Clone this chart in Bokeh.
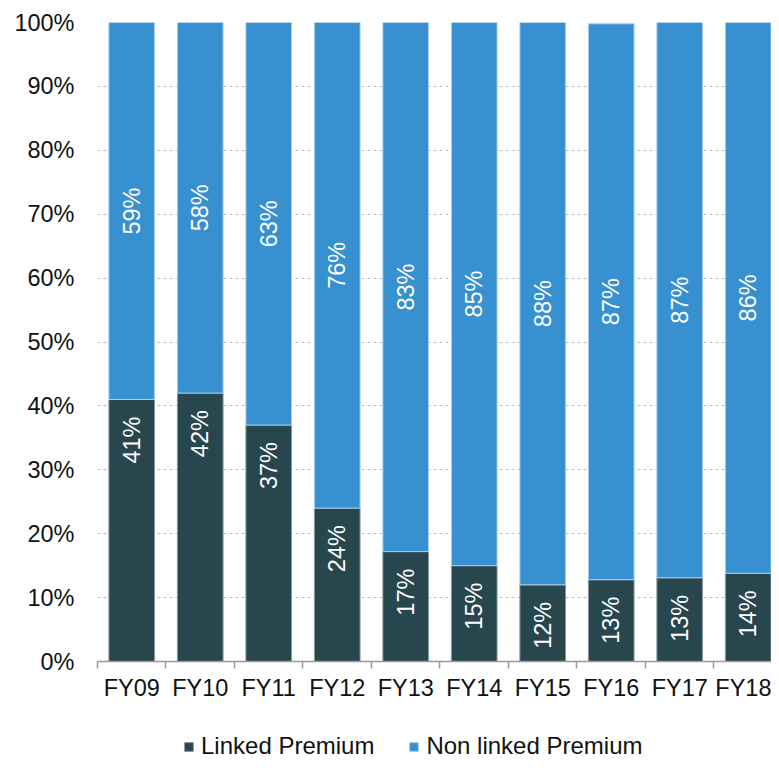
import math
from bokeh.plotting import figure
from bokeh.layouts import column
from bokeh.models import ColumnDataSource, Range1d, FixedTicker, Legend, LegendItem
from bokeh.core.properties import value
from bokeh.embed import file_html
from bokeh.resources import INLINE

categories = ["FY09", "FY10", "FY11", "FY12", "FY13", "FY14", "FY15", "FY16", "FY17", "FY18"]
linked = [41.0, 42.0, 37.0, 24.0, 17.2, 15.0, 12.0, 12.8, 13.1, 13.8]
non_linked = [59.0, 58.0, 63.0, 76.0, 82.8, 85.0, 88.0, 87.0, 86.9, 86.2]
y_ticks = [0, 10, 20, 30, 40, 50, 60, 70, 80, 90, 100]
y_tick_labels = ["0%", "10%", "20%", "30%", "40%", "50%", "60%", "70%", "80%", "90%", "100%"]
series_names = ["Linked Premium", "Non linked Premium"]

FONT = "Liberation Sans"
FS = "23.5px"
DARK = "#28464E"
BLUE = "#3790D0"
DARK_EDGE = "#8A9A9E"
BLUE_EDGE = "#A9D0EE"

x = [i + 0.5 for i in range(len(categories))]
src = ColumnDataSource(dict(
    x=x,
    linked=linked,
    non_linked=non_linked,
    top=[a + b for a, b in zip(linked, non_linked)],
    mid=[a + b / 2 for a, b in zip(linked, non_linked)],
    llab=[f"{round(v)}%" for v in linked],
    nlab=[f"{round(v)}%" for v in non_linked],
))

p = figure(width=771, height=703, x_range=Range1d(0, 9.84), y_range=Range1d(0, 100),
           output_backend="svg", toolbar_location=None,
           min_border_left=97, min_border_right=0, min_border_top=22, min_border_bottom=40)
p.outline_line_color = None
p.background_fill_color = "white"

p.xgrid.grid_line_color = None
p.ygrid.grid_line_color = "#BFBFBF"
p.ygrid.grid_line_dash = "3 3"
p.ygrid.grid_line_width = 1
p.ygrid.ticker = FixedTicker(ticks=y_ticks)

yax = p.yaxis[0]
yax.ticker = FixedTicker(ticks=y_ticks)
yax.major_label_overrides = {t: l for t, l in zip(y_ticks, y_tick_labels)}
yax.axis_line_color = None
yax.major_tick_line_color = None
yax.minor_tick_line_color = None
yax.major_tick_out = 0
yax.major_label_standoff = 23
yax.major_label_text_font = FONT
yax.major_label_text_font_size = FS
yax.major_label_text_color = "#111111"

xax = p.xaxis[0]
xax.ticker = FixedTicker(ticks=x, minor_ticks=list(range(len(categories) + 1)))
xax.major_label_overrides = {t: c for t, c in zip(x, categories)}
xax.axis_line_color = "#999999"
xax.axis_line_width = 1.5
xax.major_tick_line_color = None
xax.major_tick_out = 0
xax.minor_tick_line_color = "#999999"
xax.minor_tick_line_width = 1.5
xax.minor_tick_in = 0
xax.minor_tick_out = 7
xax.major_label_standoff = 6
xax.major_label_text_font = FONT
xax.major_label_text_font_size = FS
xax.major_label_text_color = "#111111"

p.vbar(x="x", bottom=0, top="linked", width=0.667, source=src,
       fill_color=DARK, line_color=DARK_EDGE, line_width=1)
p.vbar(x="x", bottom="linked", top="top", width=0.667, source=src,
       fill_color=BLUE, line_color=BLUE_EDGE, line_width=1)

p.text(x="x", y="mid", text="nlab", angle=math.pi / 2, text_align="center",
       text_baseline="middle", text_color="white", text_font=value(FONT),
       text_font_size=FS, source=src)
p.text(x="x", y="linked", text="llab", angle=math.pi / 2, text_align="right",
       text_baseline="middle", y_offset=17, text_color="white", text_font=value(FONT),
       text_font_size=FS, source=src)

# Legend strip below the chart (swatch renderers sit outside the visible range)
lf = figure(width=771, height=57, x_range=Range1d(0, 1), y_range=Range1d(0, 1),
            output_backend="svg", toolbar_location=None,
            min_border_left=97, min_border_right=0, min_border_top=0, min_border_bottom=0)
lf.axis.visible = False
lf.grid.visible = False
lf.outline_line_color = None
k1 = lf.vbar(x=[5], bottom=[5], top=[6], width=0.5, fill_color=DARK, line_color=DARK_EDGE)
k2 = lf.vbar(x=[5], bottom=[5], top=[6], width=0.5, fill_color=BLUE, line_color=BLUE_EDGE)
legend = Legend(items=[LegendItem(label=series_names[0], renderers=[k1]),
                       LegendItem(label=series_names[1], renderers=[k2])],
                orientation="horizontal", location=(86, 0),
                padding=0, margin=0, spacing=34, label_standoff=7,
                glyph_width=11, glyph_height=11,
                border_line_color=None, background_fill_alpha=0,
                label_text_font=FONT, label_text_font_size="24px",
                label_text_color="#111111")
lf.add_layout(legend, "center")

layout = column(p, lf, spacing=0)
open("out.html", "w").write(file_html(layout, INLINE))
